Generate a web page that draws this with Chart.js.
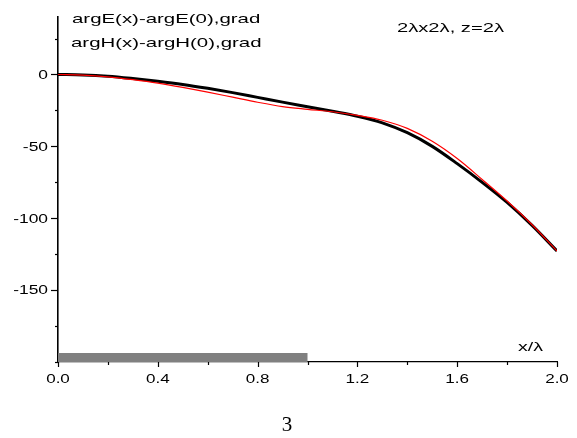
<!DOCTYPE html>
<html>
<head>
<meta charset="utf-8">
<script src="https://cdn.jsdelivr.net/npm/chart.js@4.4.1/dist/chart.umd.min.js"></script>
<style>
  html, body { margin: 0; padding: 0; background: #fff; }
  #chart { display: block; }
</style>
</head>
<body>
<canvas id="chart" width="577" height="438"></canvas>
<script>
// x/lambda sample positions
var xPos = [0, 0.1, 0.2, 0.3, 0.4, 0.5, 0.6, 0.7, 0.8, 0.9, 1.0, 1.1, 1.2, 1.3, 1.4, 1.5, 1.6, 1.7, 1.8, 1.9, 2.0];
// argE(x)-argE(0), grad  (black)
var argE = [0, -0.3, -1.2, -2.8, -4.7, -6.9, -9.6, -12.6, -15.9, -19.2, -22.4, -25.6, -29.0, -33.6, -40.5, -50.0, -62.0, -75.0, -89.0, -105.0, -122.8];
// argH(x)-argH(0), grad  (red)
var argH = [0, -0.4, -1.6, -3.6, -6.0, -9.0, -12.3, -15.8, -19.3, -22.3, -24.2, -25.9, -28.4, -31.8, -37.5, -46.5, -58.5, -73.0, -88.0, -104.5, -122.8];

var xTicks = [0, 0.4, 0.8, 1.2, 1.6, 2.0];
var xMinor = [0.2, 0.6, 1.0, 1.4, 1.8];
var yTicks = [0, -50, -100, -150];
var yMinor = [25, -25, -75, -125, -175, -200];

// grey strip along the x axis
var stripFrom = 0;
var stripTo = 1.0;

var labels = ["argE(x)-argE(0),grad", "argH(x)-argH(0),grad"];
var note = "2\u03bbx2\u03bb, z=2\u03bb";
var xTitle = "x/\u03bb";
var figNo = "3";

function pts(ys) {
    return xPos.map(function(x, i) { return { x: x, y: ys[i] }; });
}

// text in the original is stretched sideways
function wideText(ctx, txt, x, y, align, sx) {
    ctx.save();
    ctx.translate(x, y);
    ctx.scale(sx, 1);
    ctx.textAlign = align;
    ctx.fillText(txt, 0, 0);
    ctx.restore();
}

var extras = {
    id: "extras",
    beforeDatasetsDraw: function(chart) {
        var ctx = chart.ctx, xs = chart.scales.x, ys = chart.scales.y;
        var a = xs.getPixelForValue(stripFrom), b = xs.getPixelForValue(stripTo);
        var base = ys.getPixelForValue(-200);
        ctx.save();
        ctx.fillStyle = "#808080";
        ctx.fillRect(a, base - 9, b - a, 9);
        ctx.restore();
    },
    afterDraw: function(chart) {
        var ctx = chart.ctx, xs = chart.scales.x, ys = chart.scales.y;
        var area = chart.chartArea;
        ctx.save();
        ctx.strokeStyle = "#000";
        ctx.lineWidth = 1.2;
        // ticks
        xTicks.forEach(function(v) {
            var p = Math.round(xs.getPixelForValue(v)) + 0.5;
            ctx.beginPath(); ctx.moveTo(p, area.bottom); ctx.lineTo(p, area.bottom + 5); ctx.stroke();
        });
        xMinor.forEach(function(v) {
            var p = Math.round(xs.getPixelForValue(v)) + 0.5;
            ctx.beginPath(); ctx.moveTo(p, area.bottom); ctx.lineTo(p, area.bottom + 3); ctx.stroke();
        });
        yTicks.forEach(function(v) {
            var p = Math.round(ys.getPixelForValue(v)) + 0.5;
            ctx.beginPath(); ctx.moveTo(area.left, p); ctx.lineTo(area.left - 7, p); ctx.stroke();
        });
        yMinor.forEach(function(v) {
            var p = Math.round(ys.getPixelForValue(v)) + 0.5;
            ctx.beginPath(); ctx.moveTo(area.left, p); ctx.lineTo(area.left - 3, p); ctx.stroke();
        });

        // tick labels
        ctx.fillStyle = "#000";
        ctx.font = "12px 'Liberation Sans', Arial, sans-serif";
        ctx.textBaseline = "alphabetic";
        xTicks.forEach(function(v) {
            wideText(ctx, v.toFixed(1), xs.getPixelForValue(v), area.bottom + 21, "center", 1.42);
        });
        ctx.textBaseline = "middle";
        yTicks.forEach(function(v) {
            wideText(ctx, String(v), area.left - 10, ys.getPixelForValue(v) + 1, "right", 1.45);
        });

        // annotations
        ctx.textBaseline = "alphabetic";
        ctx.font = "13px 'Liberation Sans', Arial, sans-serif";
        wideText(ctx, labels[0], area.left + 14, 23, "left", 1.57);
        wideText(ctx, labels[1], area.left + 13, 47, "left", 1.57);
        wideText(ctx, note, 397, 32, "left", 1.55);
        wideText(ctx, xTitle, 518, 351, "left", 1.5);

        ctx.font = "21px 'Liberation Serif', 'Times New Roman', serif";
        ctx.textAlign = "center";
        ctx.fillText(figNo, 287, 431);
        ctx.restore();
    }
};

var ctx = document.getElementById("chart");
var chart = new Chart(ctx, {
    type: "line",
    data: {
        datasets: [{
            label: labels[1],
            data: pts(argH),
            borderColor: "#ff0000",
            borderWidth: 1.2,
            pointRadius: 0,
            cubicInterpolationMode: "monotone",
            fill: false
        }, {
            label: labels[0],
            data: pts(argE),
            borderColor: "#000000",
            borderWidth: 3,
            pointRadius: 0,
            cubicInterpolationMode: "monotone",
            fill: false
        }]
    },
    options: {
        responsive: false,
        animation: false,
        events: [],
        layout: { padding: { left: 58, top: 17, right: 20, bottom: 76 } },
        plugins: { legend: { display: false }, tooltip: { enabled: false }, title: { display: false } },
        scales: {
            x: {
                type: "linear",
                min: 0, max: 2,
                grid: { display: false, drawTicks: false },
                ticks: { display: false },
                border: { display: true, color: "#000", width: 1.3 }
            },
            y: {
                type: "linear",
                min: -200, max: 40,
                grid: { display: false, drawTicks: false },
                ticks: { display: false },
                border: { display: true, color: "#000", width: 1.6 }
            }
        }
    },
    plugins: [extras]
});
</script>
</body>
</html>
